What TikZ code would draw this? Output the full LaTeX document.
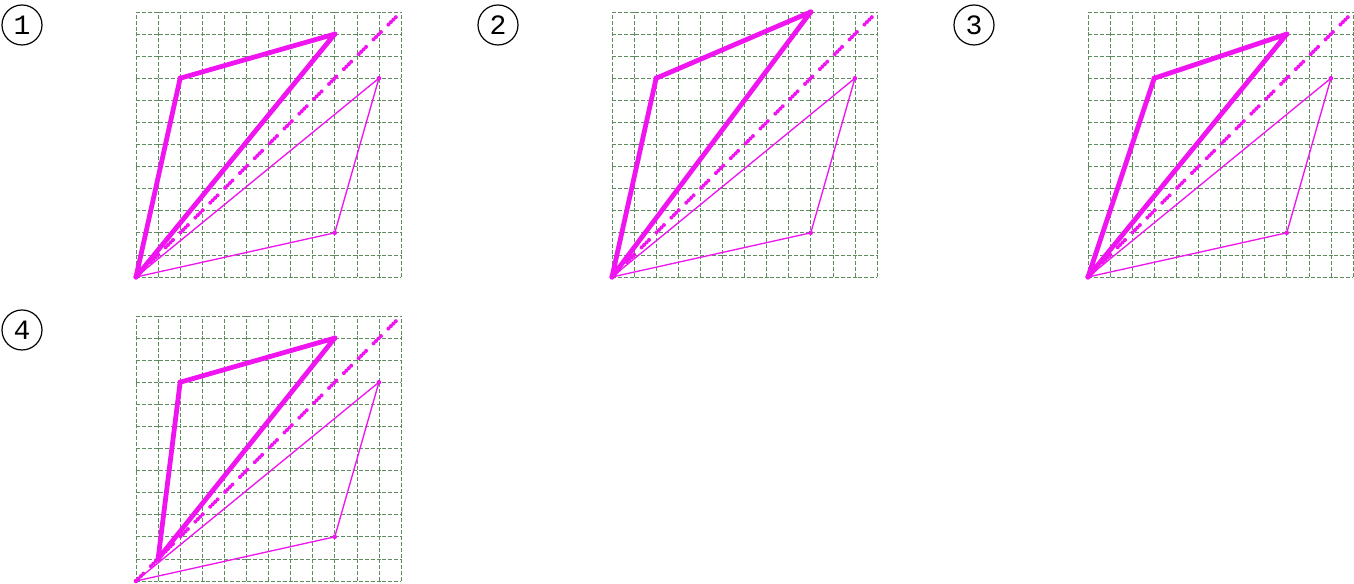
\documentclass[tikz,border=0pt]{standalone}
\usepackage{fontspec}
\newfontfamily\monofont{Liberation Mono}
\definecolor{mag}{RGB}{240,20,240}
\definecolor{gridg}{RGB}{95,140,95}
\newcommand\drawpanel[5]{%
\begin{scope}[shift={(#1pt,#2pt)}, x=16.5625pt, y=16.5625pt]
  \draw[gridline] (0,0) grid[step=16.5625pt] (12,12);
  \coordinate (O) at (0,0);
  \coordinate (T1) at (9,2);
  \coordinate (T2) at (11,9);
  \coordinate (D) at (12,12);
  \coordinate (K0) at #3;
  \coordinate (K1) at #4;
  \coordinate (K2) at #5;
  \draw[thinpoly] (O) -- (T1) -- (T2) -- cycle;
  \draw[diag] (O) -- (D);
  \draw[thickpoly] (K0) -- (K1) -- (K2) -- cycle;
  \foreach \p in {O,T1,T2} \fill[mag] (\p) circle (1.7pt);
  \foreach \p in {K0,K1,K2} \fill[mag] (\p) circle (2pt);
\end{scope}}
\begin{document}
\begin{tikzpicture}[x=1pt,y=1pt,
  gridline/.style={draw=gridg, line width=0.5pt, dash pattern=on 3pt off 1.4pt},
  thickpoly/.style={draw=mag, line width=3.6pt, line join=round},
  thinpoly/.style={draw=mag, line width=1pt, line join=round},
  diag/.style={draw=mag, line width=3pt, line cap=round, dash pattern=on 0pt off 2.6pt on 0pt off 2.6pt on 0pt off 2.6pt on 0pt off 7.95pt},
  numlabel/.style={circle, draw, line width=0.9pt, minimum size=30pt, inner sep=0pt, font=\monofont\fontsize{21}{21}\selectfont}]
\useasboundingbox (0,0) rectangle (1015.5,438);
\drawpanel{102}{230.25}{(0,0)}{(2,9)}{(9,11)}
\drawpanel{459}{230.25}{(0,0)}{(2,9)}{(9,12)}
\drawpanel{816}{230.25}{(0,0)}{(3,9)}{(9,11)}
\drawpanel{102}{2.25}{(1,1)}{(2,9)}{(9,11)}
\node[numlabel] (lab1) at (16.5,419.25) {1};
\node[numlabel] (lab2) at (373.5,419.25) {2};
\node[numlabel] (lab3) at (730.5,419.25) {3};
\node[numlabel] (lab4) at (16.5,190.5) {4};
\end{tikzpicture}
\end{document}
